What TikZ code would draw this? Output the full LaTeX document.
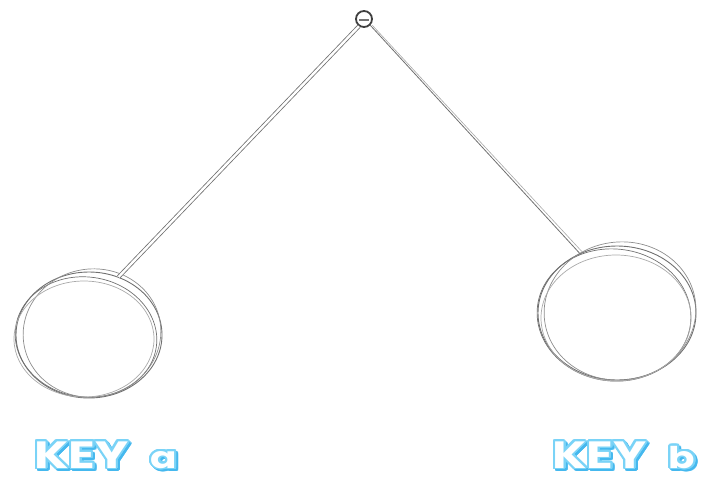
\documentclass[tikz,border=0pt]{standalone}
\usepackage{fontspec}
\usepackage[copies]{contour}
\usetikzlibrary{shapes.geometric,calc}
\newfontfamily\keyfont{Poppins}
\definecolor{keyblue}{HTML}{7AD3F7}
\definecolor{keyshade}{HTML}{45B8EE}
\definecolor{sketch}{HTML}{707070}
\contourlength{1.6pt}
\contournumber{24}
\newcommand\keylabel[2]{\scalebox{1.3}[1]{\keyfont\bfseries\contour{keyblue}{\textcolor{white}{KEY}}\hspace{17pt}{\fontsize{30}{30}\selectfont\contour{keyblue}{\textcolor{white}{#2}}}}}
\newcommand\keyshadow[2]{\scalebox{1.3}[1]{\keyfont\bfseries\contour{keyshade}{\textcolor{keyshade}{KEY}}\hspace{17pt}{\fontsize{30}{30}\selectfont\contour{keyshade}{\textcolor{keyshade}{#2}}}}}
\tikzset{
  x=1pt, y=-1pt,
  ring/.style={ellipse, draw=sketch, line width=0.9pt, inner sep=0pt},
  stroke/.style={draw=sketch, line width=0.7pt},
  rope/.style={draw=sketch, line width=0.8pt},
  keytext/.style={inner sep=0pt, font=\fontsize{38}{38}\selectfont, anchor=base west},
}
\begin{document}
\begin{tikzpicture}
\useasboundingbox (0,0) rectangle (712,483);
% pivot
\node[circle, draw=black!75, line width=1.8pt, minimum size=16pt, inner sep=0pt] (pivot) at (364,19) {};
\draw[black!55, line width=1.2pt] ($(pivot)+(-5,1)$) -- ($(pivot)+(5,1)$);
% rings
\node[ring, minimum width=146pt, minimum height=126pt] (lefta) at (89,335) {};
\node[ring, minimum width=158pt, minimum height=134pt] (rightb) at (617,313) {};
% sketchy extra strokes
\draw[stroke] (86,337) ellipse [x radius=71, y radius=60, rotate=-8];
\draw[stroke, sketch!80] (92,333) ellipse [x radius=69, y radius=64, rotate=10];
\draw[stroke, sketch!60] (84,339) ellipse [x radius=70, y radius=58];
\draw[stroke] (614,315) ellipse [x radius=77, y radius=66, rotate=-6];
\draw[stroke, sketch!80] (620,311) ellipse [x radius=76, y radius=69, rotate=8];
\draw[stroke, sketch!60] (616,318) ellipse [x radius=75, y radius=63];
% ropes
\draw[rope, double=white, double distance=2.4pt] (pivot.235) -- (lefta.63);
\draw[rope] (pivot.-45) -- (rightb.122);
\draw[rope, sketch!60, line width=0.6pt] ($(pivot.-45)+(2,0)$) -- ($(rightb.122)+(2,-2)$);
% labels
\node[keytext, opacity=0.7] (shadowa) at (36,470) {\keyshadow{KEY}{a}};
\node[keytext] (labela) at (34,468) {\keylabel{KEY}{a}};
\node[keytext, opacity=0.7] (shadowb) at (554,470) {\keyshadow{KEY}{b}};
\node[keytext] (labelb) at (552,468) {\keylabel{KEY}{b}};
\end{tikzpicture}
\end{document}
